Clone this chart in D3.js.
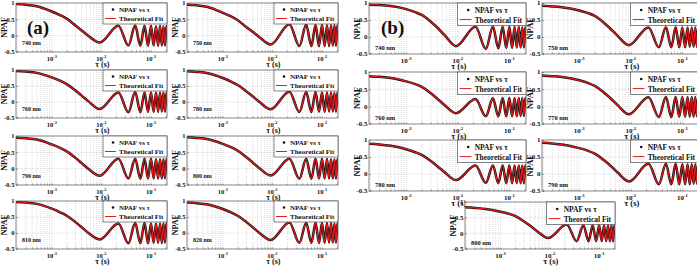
<!DOCTYPE html>
<html>
<head>
<meta charset="utf-8">
<script src="https://cdn.jsdelivr.net/npm/d3@7"></script>
<style>
body { margin: 0; background: #fff; }
svg { display: block; }
text { font-family: "Liberation Serif", "Times New Roman", serif; font-weight: bold; fill: #111; }
</style>
</head>
<body>
<svg id="fig" width="697" height="266"></svg>
<script>
// delay times (s) read at the turning points of the curves
var tau = [1.9e-4, 3e-4, 5e-4, 1e-3, 1.5e-3, 2e-3, 3e-3, 4e-3, 5.5e-3, 0.0092,
           0.022, 0.035, 0.048, 0.061, 0.074, 0.087, 0.100, 0.113, 0.126, 0.139,
           0.152, 0.165, 0.178, 0.191, 0.204, 0.215];

// NPAF values per wavelength, figure (a)
var a740 = [0.97,0.95,0.90,0.74,0.62,0.52,0.31,0.16,-0.01,-0.21,0.30,-0.30,0.31,-0.31,0.30,-0.31,0.30,-0.30,0.29,-0.31,0.30,-0.30,0.29,-0.30,0.29,0.10];
var a750 = [0.95,0.93,0.88,0.70,0.58,0.47,0.26,0.12,-0.05,-0.27,0.35,-0.32,0.34,-0.32,0.33,-0.32,0.33,-0.32,0.32,-0.32,0.32,-0.31,0.32,-0.31,0.31,0.10];
var a760 = [0.97,0.95,0.91,0.77,0.66,0.56,0.36,0.20,0.02,-0.22,0.30,-0.32,0.31,-0.32,0.30,-0.31,0.30,-0.31,0.30,-0.31,0.30,-0.30,0.30,-0.30,0.29,0.10];
var a780 = [0.96,0.94,0.90,0.75,0.63,0.53,0.33,0.18,0.00,-0.23,0.32,-0.31,0.31,-0.31,0.31,-0.30,0.30,-0.31,0.30,-0.30,0.30,-0.30,0.29,-0.30,0.29,0.10];
var a790 = [0.95,0.93,0.89,0.74,0.63,0.53,0.33,0.17,-0.01,-0.22,0.30,-0.30,0.30,-0.31,0.30,-0.30,0.30,-0.30,0.29,-0.30,0.29,-0.30,0.29,-0.29,0.29,0.10];
var a800 = [0.96,0.94,0.90,0.76,0.65,0.55,0.35,0.19,0.01,-0.21,0.30,-0.31,0.30,-0.31,0.30,-0.30,0.30,-0.30,0.30,-0.30,0.29,-0.30,0.29,-0.30,0.29,0.10];
var a810 = [0.97,0.95,0.91,0.76,0.64,0.54,0.34,0.18,0.00,-0.20,0.30,-0.32,0.31,-0.32,0.31,-0.32,0.30,-0.31,0.30,-0.31,0.30,-0.31,0.30,-0.30,0.30,0.10];
var a820 = [0.95,0.93,0.89,0.75,0.64,0.54,0.34,0.18,0.00,-0.22,0.33,-0.31,0.32,-0.31,0.32,-0.31,0.31,-0.31,0.31,-0.30,0.31,-0.30,0.30,-0.30,0.30,0.10];

// NPAF values per wavelength, figure (b)
var b740 = [0.95,0.94,0.91,0.82,0.73,0.65,0.45,0.28,0.06,-0.27,0.30,-0.35,0.31,-0.33,0.30,-0.32,0.30,-0.32,0.30,-0.31,0.30,-0.31,0.29,-0.31,0.29,0.10];
var b750 = [0.92,0.90,0.87,0.78,0.70,0.62,0.42,0.25,0.04,-0.24,0.28,-0.30,0.29,-0.30,0.29,-0.30,0.28,-0.30,0.28,-0.29,0.28,-0.29,0.28,-0.29,0.28,0.10];
var b760 = [0.88,0.86,0.83,0.73,0.65,0.57,0.39,0.23,0.05,-0.19,0.22,-0.28,0.24,-0.28,0.25,-0.28,0.25,-0.28,0.25,-0.28,0.25,-0.27,0.25,-0.27,0.25,0.10];
var b770 = [0.90,0.88,0.85,0.76,0.68,0.60,0.41,0.25,0.05,-0.22,0.27,-0.30,0.28,-0.30,0.28,-0.29,0.28,-0.29,0.28,-0.29,0.28,-0.29,0.28,-0.28,0.28,0.10];
var b780 = [0.89,0.87,0.83,0.73,0.64,0.56,0.38,0.23,0.06,-0.18,0.25,-0.26,0.25,-0.27,0.25,-0.27,0.25,-0.27,0.25,-0.27,0.25,-0.27,0.25,-0.27,0.25,0.10];
var b790 = [0.92,0.90,0.86,0.76,0.68,0.60,0.41,0.25,0.05,-0.22,0.30,-0.30,0.30,-0.30,0.30,-0.30,0.29,-0.30,0.29,-0.30,0.29,-0.29,0.29,-0.29,0.29,0.10];
var b800 = [0.83,0.81,0.78,0.69,0.62,0.55,0.38,0.24,0.07,-0.15,0.28,-0.25,0.26,-0.25,0.26,-0.25,0.26,-0.25,0.26,-0.25,0.25,-0.25,0.25,-0.25,0.25,0.10];

var yTicks = [-0.5, 0, 0.5, 1];
var xTicks = [1e-3, 1e-2, 1e-1];
var xTickExp = ["-3", "-2", "-1"];
var legendNames = ["NPAF vs \u03c4", "Theoretical Fit"];

// layout: where each panel sits on the page
var layout = [
    { fig: "a", nm: "740 nm", v: a740, x: 16,  y: 3,   w: 151, h: 49 },
    { fig: "a", nm: "750 nm", v: a750, x: 187, y: 3,   w: 151, h: 49 },
    { fig: "a", nm: "760 nm", v: a760, x: 16,  y: 70,  w: 151, h: 48 },
    { fig: "a", nm: "780 nm", v: a780, x: 187, y: 70,  w: 151, h: 48 },
    { fig: "a", nm: "790 nm", v: a790, x: 16,  y: 136, w: 151, h: 49 },
    { fig: "a", nm: "800 nm", v: a800, x: 187, y: 136, w: 151, h: 49 },
    { fig: "a", nm: "810 nm", v: a810, x: 16,  y: 201, w: 151, h: 48 },
    { fig: "a", nm: "820 nm", v: a820, x: 187, y: 201, w: 151, h: 48 },
    { fig: "b", nm: "740 nm", v: b740, x: 369, y: 3,   w: 157, h: 51 },
    { fig: "b", nm: "750 nm", v: b750, x: 542, y: 3,   w: 157, h: 51 },
    { fig: "b", nm: "760 nm", v: b760, x: 369, y: 72,  w: 157, h: 52 },
    { fig: "b", nm: "770 nm", v: b770, x: 542, y: 72,  w: 157, h: 52 },
    { fig: "b", nm: "780 nm", v: b780, x: 369, y: 140, w: 157, h: 51 },
    { fig: "b", nm: "790 nm", v: b790, x: 542, y: 140, w: 157, h: 51 },
    { fig: "b", nm: "800 nm", v: b800, x: 465, y: 202, w: 150, h: 47 }
];

var svg = d3.select("#fig");

layout.forEach(drawPanel);

// figure letters go on top of the first panels
svg.append("text").attr("x", 27).attr("y", 34).style("font-size", "19px").text("(a)");
svg.append("text").attr("x", 381).attr("y", 34).style("font-size", "19px").text("(b)");

function drawPanel(p, i) {
    var s = p.fig == "a" ? 1 : 1.07;        // font scale
    var g = svg.append("g").attr("transform", "translate(" + p.x + "," + p.y + ")");
    var x = d3.scaleLog().domain([1.9e-4, 0.21]).range([0, p.w]);
    var y = d3.scaleLinear().domain([-0.5, 1]).range([p.h, 0]);
    var pts = tau.map((t, k) => [t, p.v[k]]);

    g.append("rect").attr("width", p.w).attr("height", p.h).attr("fill", "#fff");

    // grid
    g.selectAll(".gx").data(x.ticks()).enter().append("line")
        .attr("x1", d => x(d)).attr("x2", d => x(d)).attr("y1", 0).attr("y2", p.h)
        .attr("stroke", "#bbb").attr("stroke-width", 0.5).attr("stroke-dasharray", "1,1");
    g.selectAll(".gy").data([0, 0.5]).enter().append("line")
        .attr("x1", 0).attr("x2", p.w).attr("y1", d => y(d)).attr("y2", d => y(d))
        .attr("stroke", "#bbb").attr("stroke-width", 0.5).attr("stroke-dasharray", "1,1");

    // curves
    var clipId = "clip" + i;
    g.append("clipPath").attr("id", clipId).append("rect").attr("width", p.w).attr("height", p.h);
    var line = d3.line().x(d => x(d[0])).y(d => y(d[1])).curve(d3.curveMonotoneX);
    g.append("path").datum(pts).attr("clip-path", "url(#" + clipId + ")")
        .attr("d", line).attr("fill", "none").attr("stroke", "#111").attr("stroke-width", 2.5);
    g.append("path").datum(pts).attr("clip-path", "url(#" + clipId + ")")
        .attr("d", line).attr("fill", "none").attr("stroke", "#e3191c").attr("stroke-width", 1.25);

    // axes (ticks inside, labels drawn by hand)
    g.append("g").attr("transform", "translate(0," + p.h + ")")
        .call(d3.axisBottom(x).tickValues(x.ticks()).tickSize(-1.5).tickFormat(""))
        .call(a => a.select(".domain").remove())
        .call(a => a.selectAll("line").attr("stroke", "#444").attr("stroke-width", 0.5));
    g.append("g")
        .call(d3.axisLeft(y).tickValues(yTicks).tickSize(-2).tickFormat(""))
        .call(a => a.select(".domain").remove())
        .call(a => a.selectAll("line").attr("stroke", "#444").attr("stroke-width", 0.5));
    g.append("rect").attr("width", p.w).attr("height", p.h)
        .attr("fill", "none").attr("stroke", "#555").attr("stroke-width", 0.7);

    g.selectAll(".yl").data(yTicks).enter().append("text")
        .attr("x", -1.5).attr("y", d => y(d) + 2.2).attr("text-anchor", "end")
        .style("font-size", (6.5 * s) + "px").text(d => d);

    var xl = g.selectAll(".xl").data(xTicks).enter().append("text")
        .attr("x", d => x(d)).attr("y", p.h + 9).attr("text-anchor", "middle")
        .style("font-size", (6.5 * s) + "px");
    xl.append("tspan").text("10");
    xl.append("tspan").attr("dy", -3.2).style("font-size", (4.3 * s) + "px")
        .text((d, k) => xTickExp[k]);

    g.append("text").attr("x", x(0.01) + 1).attr("y", p.h + 15)
        .attr("text-anchor", "middle").style("font-size", (8 * s) + "px").text("\u03c4 (s)");
    g.append("text").attr("transform", "translate(-9," + (p.h / 2) + ") rotate(-90)")
        .attr("text-anchor", "middle").style("font-size", (8 * s) + "px").text("NPAF");

    g.append("text").attr("x", 6).attr("y", p.fig == "a" ? p.h - 7 : p.h - 4)
        .style("font-size", (6 * s) + "px").text(p.nm);

    // legend
    var lw = 64 * s, lh = 21 * s;
    var lg = g.append("g").attr("transform", "translate(" + (p.w - lw) + ",0)");
    lg.append("rect").attr("width", lw).attr("height", lh)
        .attr("fill", "#fff").attr("stroke", "#333").attr("stroke-width", 0.6);
    lg.append("circle").attr("cx", 10 * s).attr("cy", 6.5 * s).attr("r", 1.3).attr("fill", "#111");
    lg.append("line").attr("x1", 2 * s).attr("x2", 13 * s)
        .attr("y1", 15.5 * s).attr("y2", 15.5 * s).attr("stroke", "#e3191c").attr("stroke-width", 1);
    lg.selectAll(".lt").data(legendNames).enter().append("text")
        .attr("x", 16 * s).attr("y", (d, k) => (9 + k * 9.3) * s)
        .style("font-size", (7 * s) + "px").text(d => d);
}
</script>
</body>
</html>
